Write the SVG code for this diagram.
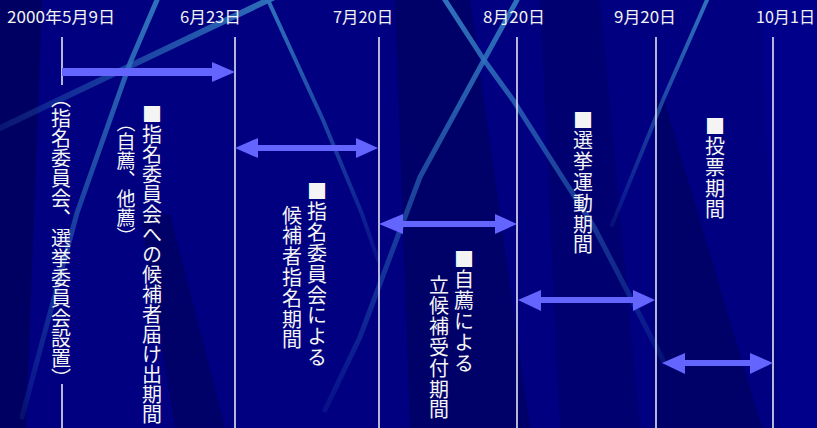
<svg xmlns="http://www.w3.org/2000/svg" width="817" height="428" viewBox="0 0 817 428">
<style>
.date{font-family:"Noto Sans CJK JP","Liberation Sans",sans-serif;font-size:16px;fill:#f2f2f2}
.v{font-family:"Noto Sans CJK JP",sans-serif;font-size:20px;fill:#f4f4f4;writing-mode:vertical-rl;letter-spacing:0.8px}
.tick{stroke:#e4e4ee;stroke-width:1.6;fill:none}
.arrow{fill:#6464ff}
.beam{fill:none;stroke-linecap:round;stroke-linejoin:round}
</style>
<defs>
<linearGradient id="fadeDown" x1="0" y1="0" x2="0" y2="1">
<stop offset="0" stop-color="#2f72bc" stop-opacity="1"/>
<stop offset="1" stop-color="#2f72bc" stop-opacity="0.15"/>
</linearGradient>
<linearGradient id="fadeLeft" x1="1" y1="0" x2="0" y2="0">
<stop offset="0" stop-color="#2f72bc" stop-opacity="1"/>
<stop offset="1" stop-color="#2f72bc" stop-opacity="0.2"/>
</linearGradient>
</defs>
<g id="background">
<rect width="817" height="428" fill="#000080"/>
<polygon points="0,0 42,0 26,428 0,428" fill="#000048" opacity="0.55"/>
<polygon points="395,0 470,0 530,428 410,428" fill="#000040" opacity="0.35"/>
<polygon points="140,214 170,214 225,428 175,428" fill="#000040" opacity="0.35"/>
<polygon points="656,100 664,100 762,428 656,428" fill="#000040" opacity="0.35"/>
<polygon points="540,0 600,0 640,428 560,428" fill="#000040" opacity="0.25"/>
<polygon points="760,0 817,0 817,428 780,428" fill="#00008c" opacity="0.8"/>
<path class="beam" d="M157,0 L130,63 L77,213 L22,417" stroke="url(#fadeDown)" stroke-width="5"/>
<path class="beam" d="M285,-8 L0,128" stroke="url(#fadeLeft)" stroke-width="6"/>
<path class="beam" d="M268,0 L323,120 L362,214 L378,260" stroke="url(#fadeDown)" stroke-width="4"/>
<path class="beam" d="M445,0 L484,60 L513,100 L594,227 L664,362" stroke="url(#fadeDown)" stroke-width="5"/>
<path class="beam" d="M517,0 L484,60 L420,177 L360,337 L325,410" stroke="url(#fadeDown)" stroke-width="5"/>
<path class="beam" d="M707,0 L663,100 L612,225" stroke="url(#fadeDown)" stroke-width="4"/>
</g>
<g id="dates">
<text class="date" x="7" y="23" textLength="108" lengthAdjust="spacingAndGlyphs">2000年5月9日</text>
<text class="date" x="180" y="23" textLength="61" lengthAdjust="spacingAndGlyphs">6月23日</text>
<text class="date" x="333" y="23" textLength="60" lengthAdjust="spacingAndGlyphs">7月20日</text>
<text class="date" x="483" y="23" textLength="62" lengthAdjust="spacingAndGlyphs">8月20日</text>
<text class="date" x="614" y="23" textLength="62" lengthAdjust="spacingAndGlyphs">9月20日</text>
<text class="date" x="756" y="23" textLength="59" lengthAdjust="spacingAndGlyphs">10月1日</text>
</g>
<g id="ticks">
<line class="tick" x1="62" y1="37" x2="62" y2="85"/>
<line class="tick" x1="62" y1="384" x2="62" y2="428"/>
<line class="tick" x1="235" y1="37" x2="235" y2="428"/>
<line class="tick" x1="379" y1="37" x2="379" y2="428"/>
<line class="tick" x1="517" y1="37" x2="517" y2="428"/>
<line class="tick" x1="656" y1="37" x2="656" y2="428"/>
<line class="tick" x1="773" y1="37" x2="773" y2="428"/>
</g>
<g id="connectors">
<polygon class="arrow" points="62,68 212,68 212,62 235,72 212,82 212,76 62,76"/>
<polygon class="arrow" points="235,148 258,138 258,145 356,145 356,138 378,148 356,158 356,151 258,151 258,158"/>
<polygon class="arrow" points="379,224 403,214 403,221 495,221 495,214 517,224 495,234 495,227 403,227 403,234"/>
<polygon class="arrow" points="518,300 541,290 541,297 633,297 633,290 655,300 633,311 633,303 541,303 541,311"/>
<polygon class="arrow" points="662,363 685,353 685,360 750,360 750,353 773,363 750,374 750,366 685,366 685,374"/>
</g>
<g id="node-setup">
<text class="v" x="61" y="88" style="letter-spacing:0">（指名委員会、選挙委員会設置）</text>
</g>
<g id="node-nomination">
<text class="v" x="152" y="104" style="letter-spacing:0">■指名委員会への候補者届け出期間</text>
<text class="v" x="126" y="113" style="font-size:19px;letter-spacing:0">（自薦、他薦）</text>
</g>
<g id="node-committee">
<text class="v" x="317" y="181">■指名委員会による</text>
<text class="v" x="292" y="205">候補者指名期間</text>
</g>
<g id="node-self">
<text class="v" x="464" y="249">■自薦による</text>
<text class="v" x="439" y="275">立候補受付期間</text>
</g>
<g id="node-campaign">
<text class="v" x="583" y="110">■選挙運動期間</text>
</g>
<g id="node-vote">
<text class="v" x="715" y="116">■投票期間</text>
</g>
</svg>
